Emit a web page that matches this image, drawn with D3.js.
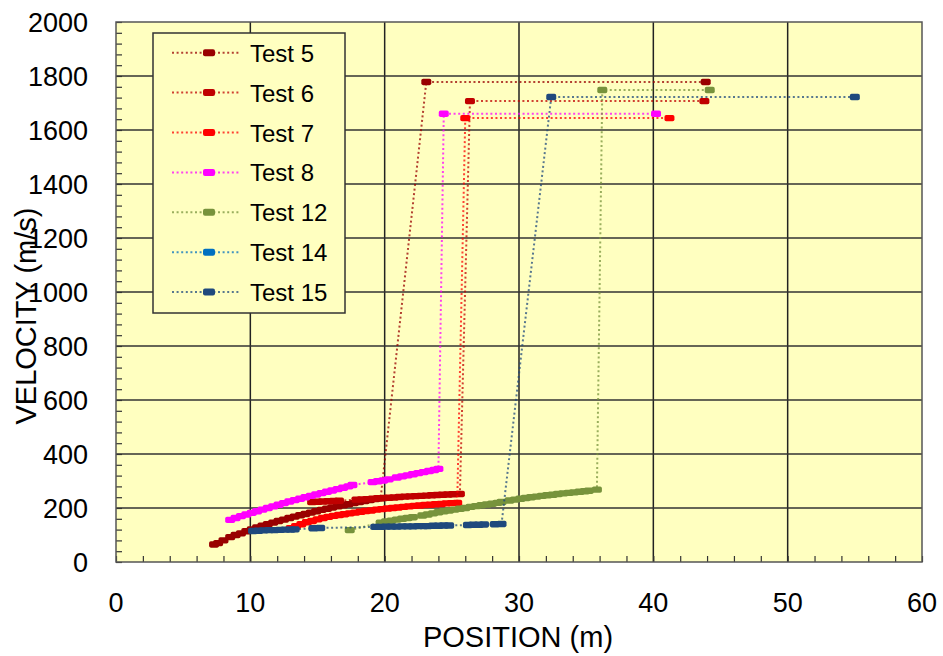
<!DOCTYPE html>
<html>
<head>
<meta charset="utf-8">
<title>Velocity vs position</title>
<script src="https://d3js.org/d3.v7.min.js"></script>
<style>
  body { margin: 0; background: #fff; }
  text { font-family: "Liberation Sans", Arial, sans-serif; fill: #000; }
</style>
</head>
<body>
<script>

// [position (m), velocity (m/s)]
var test5 = [[7.3,65],[7.6,70],[8.0,80],[8.5,92],[8.9,100],[9.3,106],[9.7,114],[10.1,121],[10.5,128],
  [10.9,134],[11.3,140],[11.7,146],[12.1,152],[12.5,157],[12.9,163],[13.3,168],[13.7,173],[14.1,178],
  [14.5,183],[14.9,188],[15.3,193],[15.7,197],[16.1,202],[16.5,206],[16.9,210],[17.3,214],[17.7,218],
  [18.1,222],[18.5,226],[18.9,229],[19.3,233],[19.7,236],[23.1,1778],[43.9,1778]];
var test6 = [[14.6,222],[15.0,223],[15.4,224],[15.8,225],[16.2,226],[16.6,227],[17.9,231],[18.3,232],
  [18.7,233],[19.1,234],[19.5,236],[19.9,237],[20.3,238],[20.7,239],[21.1,241],[21.5,242],[21.9,243],
  [22.3,244],[22.7,245],[23.1,246],[23.5,247],[23.9,248],[24.3,249],[24.7,250],[25.1,251],[25.6,252],
  [26.35,1707],[43.8,1707]];
var test7 = [[13.0,125],[13.4,133],[13.8,140],[14.2,147],[14.6,152],[15.0,158],[15.4,163],[15.8,167],
  [16.2,171],[16.6,174],[17.0,177],[17.4,180],[17.8,183],[18.2,186],[18.6,189],[19.0,191],[19.4,194],
  [19.8,196],[20.2,198],[20.6,200],[21.0,202],[21.4,204],[21.8,206],[22.2,208],[22.6,209],[23.0,211],
  [23.4,212],[23.8,214],[24.2,215],[24.6,217],[25.0,218],[25.4,219],[26.0,1644],[41.2,1644]];
var test8 = [[8.5,156],[8.9,163],[9.3,170],[9.7,176],[10.1,182],[10.5,188],[10.9,194],[11.3,200],
  [11.7,206],[12.1,212],[12.5,218],[12.9,224],[13.3,229],[13.7,234],[14.1,240],[14.5,245],[14.9,250],
  [15.3,255],[15.7,260],[16.1,265],[16.5,270],[16.9,275],[17.3,280],[17.6,285],[19.1,296],[19.5,299],
  [19.9,302],[20.3,306],[20.9,313],[21.3,317],[21.7,321],[22.1,325],[22.5,329],[22.9,333],[23.3,337],
  [23.7,341],[24.0,345],[24.4,1660],[40.2,1660]];
var test12 = [[17.4,118],[19.7,146],[20.1,150],[20.5,153],[20.9,157],[21.3,160],[21.7,163],[22.1,166],
  [22.8,172],[23.2,176],[23.6,180],[24.0,184],[24.4,188],[24.8,191],[25.2,194],[25.6,197],[26.0,200],
  [26.4,204],[26.8,207],[27.2,210],[27.6,213],[28.0,216],[28.4,219],[28.7,222],[29.3,228],[29.7,231],
  [30.1,234],[30.5,237],[30.9,240],[31.3,242],[31.7,245],[32.1,247],[32.5,249],[32.9,252],[33.3,254],
  [33.7,256],[34.1,258],[34.5,260],[34.9,262],[35.2,264],[35.8,268],[36.2,1748],[44.2,1748]];
var test14 = [];
var test15 = [[10.2,115],[10.6,116],[11.0,117],[11.4,118],[11.8,118],[12.2,119],[12.6,120],[13.0,120],
  [13.3,121],[14.7,125],[15.2,126],[19.3,130],[19.7,130],[20.1,131],[20.5,131],[20.9,131],[21.3,132],
  [21.7,132],[22.1,132],[22.5,133],[22.9,133],[23.2,133],[23.6,134],[24.0,134],[24.4,135],[24.8,135],
  [26.2,137],[26.6,138],[27.0,138],[27.4,139],[28.2,140],[28.7,141],[32.4,1722],[55.0,1722]];

var nomes = ["Test 5", "Test 6", "Test 7", "Test 8", "Test 12", "Test 14", "Test 15"];
var dados = [test5, test6, test7, test8, test12, test14, test15];
var cores = ["#990000", "#C00000", "#FF0000", "#FF00FF", "#77933C", "#0070C0", "#1F497D"];

var xTicks = [0, 10, 20, 30, 40, 50, 60];
var yTicks = [0, 200, 400, 600, 800, 1000, 1200, 1400, 1600, 1800, 2000];

var W = 943, H = 656;
var esq = 116, dir = 922, topo = 22, base = 562;

var svg = d3.select("body").append("svg")
  .attr("width", W).attr("height", H);

var x = d3.scaleLinear().domain([0, 60]).range([esq, dir]);
var y = d3.scaleLinear().domain([0, 2000]).range([base, topo]);

// plot area
svg.append("rect")
  .attr("x", esq).attr("y", topo)
  .attr("width", dir - esq).attr("height", base - topo)
  .attr("fill", "#FFFFC0");

// grid
svg.append("g").selectAll("line").data(xTicks.slice(1, -1)).enter().append("line")
  .attr("x1", function(d){ return x(d); }).attr("x2", function(d){ return x(d); })
  .attr("y1", topo).attr("y2", base)
  .attr("stroke", "#222").attr("stroke-width", 1.5);
svg.append("g").selectAll("line").data(yTicks.slice(1, -1)).enter().append("line")
  .attr("y1", function(d){ return y(d); }).attr("y2", function(d){ return y(d); })
  .attr("x1", esq).attr("x2", dir)
  .attr("stroke", "#333").attr("stroke-width", 1.5);

// minor ticks, pointing inwards
var xAxis = d3.axisTop(x).tickValues(d3.range(0, 61, 2)).tickSize(6).tickFormat("");
var yAxis = d3.axisRight(y).tickValues(d3.range(0, 2001, 40)).tickSize(6).tickFormat("");
var gx = svg.append("g").attr("transform", "translate(0," + base + ")").call(xAxis);
var gy = svg.append("g").attr("transform", "translate(" + esq + ",0)").call(yAxis);
[gx, gy].forEach(function(g){
  g.select(".domain").remove();
  g.selectAll("line").attr("stroke", "#333").attr("stroke-width", 1.2);
});

// border
svg.append("rect")
  .attr("x", esq).attr("y", topo)
  .attr("width", dir - esq).attr("height", base - topo)
  .attr("fill", "none").attr("stroke", "#555").attr("stroke-width", 1.5);

// tick labels
svg.append("g").selectAll("text").data(xTicks).enter().append("text")
  .attr("x", function(d){ return x(d); }).attr("y", 612)
  .attr("text-anchor", "middle").attr("font-size", "27px")
  .text(function(d){ return d; });
svg.append("g").selectAll("text").data(yTicks).enter().append("text")
  .attr("x", 88).attr("y", function(d){ return y(d) + 10; })
  .attr("text-anchor", "end").attr("font-size", "27px")
  .text(function(d){ return d; });

// axis titles
svg.append("text")
  .attr("x", 518).attr("y", 647)
  .attr("text-anchor", "middle").attr("font-size", "29px")
  .text("POSITION (m)");
svg.append("text")
  .attr("transform", "translate(36,316) rotate(-90)")
  .attr("text-anchor", "middle").attr("font-size", "29px")
  .text("VELOCITY (m/s)");

// series
var linha = d3.line()
  .x(function(d){ return x(d[0]); })
  .y(function(d){ return y(d[1]); });

var series = svg.append("g");
dados.forEach(function(serie, i){
  var g = series.append("g");
  g.append("path")
    .attr("d", serie.length ? linha(serie) : null)
    .attr("fill", "none")
    .attr("stroke", cores[i]).attr("stroke-opacity", 0.75)
    .attr("stroke-width", 2)
    .attr("stroke-dasharray", "2,2.6");
  g.selectAll("rect").data(serie).enter().append("rect")
    .attr("x", function(d){ return x(d[0]) - 5; })
    .attr("y", function(d){ return y(d[1]) - 3.2; })
    .attr("width", 10).attr("height", 6.4).attr("rx", 1.8)
    .attr("fill", cores[i]);
});

// legend
var leg = svg.append("g");
leg.append("rect")
  .attr("x", 153).attr("y", 33).attr("width", 192).attr("height", 280)
  .attr("fill", "#FFFFC0").attr("stroke", "#333").attr("stroke-width", 1.5);

var itens = leg.selectAll("g.item").data(nomes).enter().append("g")
  .attr("transform", function(d, i){ return "translate(0," + (52.7 + i * 39.9) + ")"; });
itens.append("line")
  .attr("x1", 172).attr("x2", 241).attr("y1", 0).attr("y2", 0)
  .attr("stroke", function(d, i){ return cores[i]; }).attr("stroke-opacity", 0.75)
  .attr("stroke-width", 2).attr("stroke-dasharray", "2,2.6");
itens.append("rect")
  .attr("x", 203).attr("y", -3.5).attr("width", 12).attr("height", 7).attr("rx", 2)
  .attr("fill", function(d, i){ return cores[i]; });
itens.append("text")
  .attr("x", 250).attr("y", 9)
  .attr("font-size", "24px")
  .text(function(d){ return d; });

</script>
</body>
</html>
